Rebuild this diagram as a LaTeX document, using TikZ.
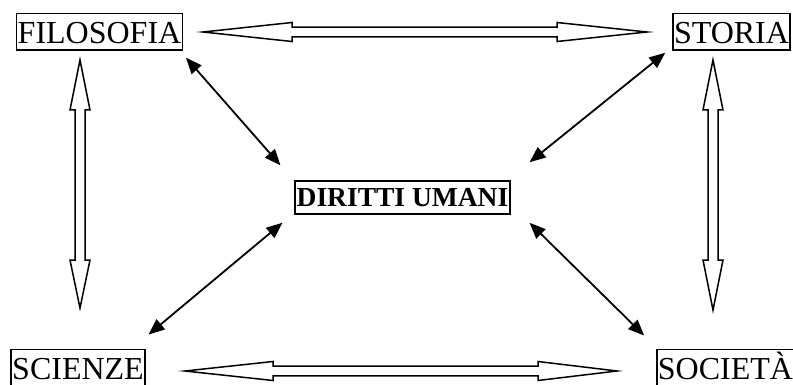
\documentclass[tikz,border=0pt]{standalone}
\usepackage{fontspec}
\setmainfont{Liberation Serif}
\usetikzlibrary{arrows.meta,calc}
\newcommand\hdarr[5]{% x1 x2 y headlen1 headlen2
  \draw[hollow] (#1,#3) -- (#1+#4,#3-9.5) -- (#1+#4,#3-4.8) -- (#2-#5,#3-4.8) -- (#2-#5,#3-9.5) -- (#2,#3)
    -- (#2-#5,#3+9.5) -- (#2-#5,#3+4.8) -- (#1+#4,#3+4.8) -- (#1+#4,#3+9.5) -- cycle;}
\newcommand\vdarr[5]{% y1 y2 x headlen1 headlen2
  \draw[hollow] (#3,#1) -- (#3-10,#1+#4) -- (#3-5,#1+#4) -- (#3-5,#2-#5) -- (#3-10,#2-#5) -- (#3,#2)
    -- (#3+10,#2-#5) -- (#3+5,#2-#5) -- (#3+5,#1+#4) -- (#3+10,#1+#4) -- cycle;}
\begin{document}
\begin{tikzpicture}[x=1pt,y=-1pt,
  box/.style={draw, line width=1.5pt, inner xsep=1pt, inner ysep=0pt, text height=29.7pt, text depth=6.7pt,
    font=\fontsize{32}{32}\selectfont, anchor=base},
  bigbox/.style={draw, line width=1.5pt, inner xsep=1.5pt, inner ysep=0pt, text height=25.7pt, text depth=7.3pt,
    font=\fontsize{27.5}{27.5}\selectfont\bfseries, anchor=base},
  link/.style={line width=1.8pt, {Triangle[length=16pt,width=13pt]}-{Triangle[length=16pt,width=13pt]}},
  hollow/.style={draw, line width=1.5pt, fill=white, line join=miter}]
\useasboundingbox (0,0) rectangle (793,385);

\node[box] (FIL) at (99.5,43.3) {FILOSOFIA};
\node[box] (STO) at (731.5,43.3) {STORIA};
\node[box] (SCI) at (78,379) {SCIENZE};
\node[box] (SOC) at (725.5,379) {SOCIETÀ};
\node[bigbox] (DU) at (402.5,206.7) {DIRITTI UMANI};

\hdarr{203}{647}{32}{89}{90}
\hdarr{185}{617}{371}{88}{79}
\vdarr{60}{308}{80}{50}{48}
\vdarr{60}{310}{713}{50}{50}

\draw[link] ($(FIL.south east)+(3,7)$) -- ($(DU.north west)+(-14,-15)$);
\draw[link] ($(STO.south west)+(-7,2)$) -- ($(DU.north east)+(19,-18)$);
\draw[link] ($(SCI.north east)+(3,-14)$) -- ($(DU.south west)+(-12,8)$);
\draw[link] ($(SOC.north west)+(-12,-13)$) -- ($(DU.south east)+(19,8)$);
\end{tikzpicture}
\end{document}
